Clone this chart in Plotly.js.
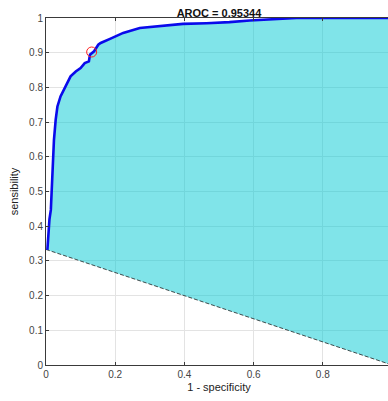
<!DOCTYPE html>
<html>
<head>
<meta charset="utf-8">
<script src="https://cdn.plot.ly/plotly-3.0.1.min.js"></script>
<style>
html,body{margin:0;padding:0;overflow:hidden;background:#fff;}
#chart{width:400px;height:401px;}
</style>
</head>
<body>
<div id="chart"></div>
<script>
// ROC curve points (1 - specificity, sensitivity)
var fpr = [0.004, 0.007, 0.010, 0.014, 0.016, 0.019, 0.021, 0.023, 0.028, 0.033, 0.042, 0.057, 0.071, 0.086, 0.100, 0.112, 0.124, 0.127, 0.139, 0.151, 0.158, 0.185, 0.223, 0.271, 0.319, 0.396, 0.464, 0.530, 0.589, 0.675, 0.724, 1.0];
var tpr = [0.332, 0.399, 0.420, 0.447, 0.495, 0.572, 0.620, 0.649, 0.707, 0.745, 0.774, 0.803, 0.832, 0.846, 0.856, 0.870, 0.875, 0.894, 0.904, 0.923, 0.928, 0.940, 0.957, 0.971, 0.975, 0.983, 0.985, 0.988, 0.993, 0.998, 1.0, 1.0];
// chance / baseline line
var baseX = [0, 1];
var baseY = [0.333, 0];
// operating point
var opX = [0.132];
var opY = [0.902];
var titleText = 'AROC = 0.95344';
var xTicks = [0, 0.2, 0.4, 0.6, 0.8];
var xTickText = ['0', '0.2', '0.4', '0.6', '0.8'];
var yTicks = [0, 0.1, 0.2, 0.3, 0.4, 0.5, 0.6, 0.7, 0.8, 0.9, 1];
var yTickText = ['0', '0.1', '0.2', '0.3', '0.4', '0.5', '0.6', '0.7', '0.8', '0.9', '1'];

// fill polygon: curve then back along baseline
var polyX = [baseX[0]].concat(fpr, baseX.slice().reverse());
var polyY = [baseY[0]].concat(tpr, baseY.slice().reverse());

var traces = [
  {x: polyX, y: polyY, type: 'scatter', mode: 'lines', fill: 'toself',
   fillcolor: 'rgba(1,201,211,0.5)', line: {width: 0}, hoverinfo: 'skip'},
  {x: baseX, y: baseY, type: 'scatter', mode: 'lines',
   line: {color: '#222', width: 0.8, dash: '4px,2px'}},
  {x: fpr, y: tpr, type: 'scatter', mode: 'lines',
   line: {color: '#0a0aeb', width: 2.6}},
  {x: opX, y: opY, type: 'scatter', mode: 'markers',
   marker: {symbol: 'circle-open', size: 10, color: '#ff2020', line: {width: 1}}}
];

var axisCommon = {
  showgrid: true, gridcolor: '#e3e3e3', gridwidth: 1,
  zeroline: false, showline: true, linecolor: '#3a3a3a', linewidth: 1,
  mirror: 'ticks', ticks: 'inside', ticklen: 3, tickcolor: '#3a3a3a',
  tickfont: {family: 'Liberation Sans, Arial, sans-serif', size: 10, color: '#444'}
};

var layout = {
  width: 400, height: 401,
  margin: {l: 46, r: 7.5, t: 18, b: 36, pad: 0},
  paper_bgcolor: '#fff', plot_bgcolor: '#fff',
  showlegend: false,
  font: {family: 'Liberation Sans, Arial, sans-serif', color: '#222'},
  title: {text: '<b>' + titleText + '</b>', font: {size: 11, color: '#111'},
          x: 0.5, xref: 'paper', xanchor: 'center', y: 1, yref: 'paper', yanchor: 'bottom', pad: {b: 1}},
  xaxis: Object.assign({}, axisCommon, {
    range: [0, 1], tickvals: xTicks, ticktext: xTickText,
    title: {text: '1 - specificity', font: {size: 11, color: '#222'}, standoff: 4}
  }),
  yaxis: Object.assign({}, axisCommon, {
    range: [0, 1], tickvals: yTicks, ticktext: yTickText,
    title: {text: 'sensibility', font: {size: 11, color: '#222'}, standoff: 8}
  })
};

Plotly.newPlot('chart', traces, layout, {displayModeBar: false, staticPlot: true});
</script>
</body>
</html>
